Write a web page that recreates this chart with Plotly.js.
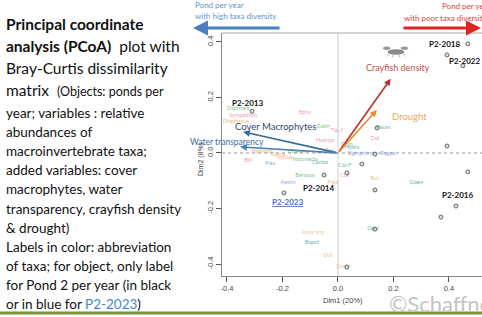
<!DOCTYPE html>
<html>
<head>
<meta charset="utf-8">
<script src="https://cdn.plot.ly/plotly-3.0.1.min.js"></script>
<style>html,body{margin:0;padding:0;background:#fff;overflow:hidden}#chart{width:482px;height:317px}</style>
</head>
<body>
<div id="chart"></div>
<script>
// ---------- DATA ----------
// Objects (ponds per year) coordinates on Dim1 / Dim2
const objLabel = ['P2-2018', '', 'P2-2022', '', '', '', '', '', 'P2-2016', '', 'P2-2023', 'P2-2014', '', '', '', '', 'P2-2013'];
const objDim1  = [0.468, 0.393, 0.450, 0.393, 0.141, 0.133, 0.468, 0.133, 0.425, 0.371, -0.195, -0.050, 0.032, 0.032, 0.086, 0.133, -0.310];
const objDim2  = [0.393, 0.353, 0.314, 0.025, 0.090, -0.004, -0.068, -0.133, -0.191, -0.231, -0.144, -0.079, -0.411, -0.072, -0.040, -0.274, 0.150];

// Taxa (variables) coordinates
const taxaNames = ['Diplonea', 'Sympetrum', 'Diaptomus', 'Ephy', 'Gasin', 'Hydrop', 'Tip. f', 'Pisum', 'Dol',
  'Dryo', 'Sigmphtrn', 'Rogpo', 'Hydroph', 'Ilybius', 'Notonecta', 'Bill', 'Corixa', 'Berosus', 'Aeshn',
  'Cor.F', 'Culi', 'Pisid', 'But', 'Glaen', 'Ogni', 'Anax imp', 'Bapsil', 'Dut', 'Orchi', 'Plea', 'Cloeon', 'Dyt', 'Gerris', 'Hydra'];
const taxaDim1 = [-0.360, -0.342, -0.368, -0.119, -0.054, -0.047, -0.004, 0.162, 0.133,
  0.032, 0.079, 0.180, -0.274, -0.191, -0.119, -0.324, -0.065, -0.119, -0.180,
  0.025, 0.025, -0.018, 0.133, 0.281, 0.126, -0.090, -0.094, -0.036, 0.018, -0.245, -0.150, -0.030, -0.215, 0.050];
const taxaDim2 = [0.159, 0.133, 0.112, 0.144, 0.094, 0.043, 0.079, 0.090, 0.050,
  0.029, -0.004, -0.004, 0.004, -0.018, -0.025, -0.029, -0.036, -0.083, -0.108,
  -0.047, -0.083, -0.108, -0.094, -0.105, -0.274, -0.288, -0.324, -0.368, -0.411, -0.040, 0.005, 0.010, -0.005, 0.020];
const taxaGroup = ['odo', 'dip', 'col', 'dip', 'odo', 'dip', 'dip', 'het', 'dip',
  'odo', 'cru', 'cru', 'col', 'col', 'odo', 'dip', 'het', 'odo', 'cru',
  'het', 'dip', 'mol', 'mol', 'het', 'het', 'mol', 'het', 'mol', 'mol', 'cru', 'odo', 'dip', 'col', 'het'];

// Added (supplementary) variables: arrow heads
const varNames = ['Crayfish density', 'Drought', 'Cover Macrophytes', 'Water transparency'];
const varDim1  = [0.190, 0.140, -0.342, -0.353];
const varDim2  = [0.267, 0.155, 0.076, 0.022];

// Axis ticks
const tickVals = [-0.4, -0.2, 0.0, 0.2, 0.4];
const tickText = ['-0.4', '-0.2', '0.0', '0.2', '0.4'];

// ---------- STYLE ----------
const W = 482, H = 317, L = 222, R = 0, T = 33, B = 41;
const pw = W - L - R, ph = H - T - B;
const px = v => (v - L) / pw;          // pixel -> paper x
const py = v => (H - B - v) / ph;      // pixel -> paper y
const groupColor = {odo: 'rgba(80,170,90,0.75)', dip: 'rgba(230,120,150,0.75)', col: 'rgba(235,150,70,0.75)',
  het: 'rgba(40,150,140,0.75)', mol: 'rgba(220,180,110,0.8)', cru: 'rgba(110,150,200,0.75)'};
const varColor = ['#c0302a', '#e8892c', '#3a6a98', '#4a80b8'];
const varTextColor = ['#c0504d', '#f2a65a', '#2e4a6b', '#3a6fa5'];
const FONT = 'Lato, "Open Sans", sans-serif';

const traces = [
  {
    type: 'scatter', mode: 'text', x: taxaDim1, y: taxaDim2, text: taxaNames,
    textfont: {family: FONT, size: 5.5, color: taxaGroup.map(g => groupColor[g])},
    hoverinfo: 'skip', showlegend: false, cliponaxis: false
  },
  {
    type: 'scatter', mode: 'markers', x: objDim1, y: objDim2,
    marker: {size: 4, color: 'rgba(200,200,200,0.6)', line: {color: '#666', width: 1}},
    hoverinfo: 'skip', showlegend: false
  }
];

const ann = [];
// arrows for added variables
varNames.forEach((n, i) => {
  ann.push({x: varDim1[i], y: varDim2[i], ax: 0, ay: 0, axref: 'x', ayref: 'y', xref: 'x', yref: 'y',
    showarrow: true, arrowhead: 2, arrowsize: 0.85, arrowwidth: 1.6, arrowcolor: varColor[i], text: ''});
});
// variable labels (offsets from arrow heads)
const varShift = [[7, 11], [13, -7], [-10, 5], [-13, 5]];
const varAnchor = ['center', 'left', 'left', 'center'];
const varSize = [9, 9.5, 9.5, 8.5];
varNames.forEach((n, i) => {
  ann.push({x: varDim1[i], y: varDim2[i], xref: 'x', yref: 'y', text: n, showarrow: false,
    xanchor: varAnchor[i], xshift: varShift[i][0], yshift: varShift[i][1],
    font: {family: FONT, size: varSize[i], color: varTextColor[i], shadow: i === 2 ? '0px 0px 2px #fff' : 'none'}});
});
// object labels
const objShift = {'P2-2018': [-23, 0], 'P2-2022': [2, 5], 'P2-2016': [2, 11], 'P2-2023': [4, -9], 'P2-2014': [-6, -13], 'P2-2013': [-4, 8]};
objLabel.forEach((n, i) => {
  if (!n) return;
  const blue = n === 'P2-2023';
  ann.push({x: objDim1[i], y: objDim2[i], xref: 'x', yref: 'y', text: '<b>' + n + '</b>', showarrow: false,
    xshift: objShift[n][0], yshift: objShift[n][1],
    font: {family: FONT, size: 8, color: blue ? '#3f72b5' : '#111', lineposition: blue ? 'under' : 'none'}});
});
// axis titles
ann.push({xref: 'paper', yref: 'paper', x: px(343), y: py(300), yanchor: 'middle', text: 'Dim1 (20%)', showarrow: false,
  font: {family: 'Liberation Sans, sans-serif', size: 7.5, color: '#444'}});
ann.push({xref: 'paper', yref: 'paper', x: px(195), y: py(160), text: 'Dim2 (8%)', textangle: -90, showarrow: false,
  font: {family: 'Liberation Sans, sans-serif', size: 7, color: '#444'}});

// top direction arrows + captions
ann.push({xref: 'paper', yref: 'paper', x: px(193), y: py(28), ax: 88, ay: 0, axref: 'pixel', ayref: 'pixel',
  showarrow: true, arrowhead: 2, arrowsize: 1, arrowwidth: 3, arrowcolor: '#4a7fc0', text: ''});
ann.push({xref: 'paper', yref: 'paper', x: px(494), y: py(28), ax: -92, ay: 0, axref: 'pixel', ayref: 'pixel',
  showarrow: true, arrowhead: 2, arrowsize: 1, arrowwidth: 3, arrowcolor: '#e02424', text: ''});
const cap = (x, y, t, c) => ann.push({xref: 'paper', yref: 'paper', x: px(x), y: py(y), xanchor: 'left', yanchor: 'middle',
  text: t, showarrow: false, font: {family: FONT, size: 8, color: c}});
cap(193, 5, 'Pond per year', '#5b95d5');
cap(193, 16.5, 'with high taxa diversity', '#5b95d5');
cap(440, 6, 'Pond per year', '#e04040');
cap(402, 17.5, 'with poor taxa diversity', '#e04040');

// left explanatory text
const txt = (y, t, s) => ann.push({xref: 'paper', yref: 'paper', x: px(4), y: py(y), xanchor: 'left', yanchor: 'middle',
  text: t, showarrow: false, font: {family: FONT, size: s, color: '#111'}});
txt(24, '<b>Principal coordinate</b>', 15.5);
txt(46, '<b>analysis (PCoA)</b>  plot with', 15.5);
txt(68, 'Bray-Curtis dissimilarity', 15.5);
txt(90, 'matrix  <span style="font-size:12.5px">(Objects: ponds per</span>', 15.5);
const body = ['year; variables : relative', 'abundances of', 'macroinvertebrate taxa;', 'added variables: cover',
  'macrophytes, water', 'transparency, crayfish density', '&amp; drought)', 'Labels in color: abbreviation',
  'of taxa; for object, only label', 'for Pond 2 per year (in black',
  'or in blue for <span style="color:#4a86c8">P2-2023</span>)'];
body.forEach((t, i) => txt(113 + i * 19.1, t, 13.5));

// watermark
ann.push({xref: 'paper', yref: 'paper', x: px(387), y: py(303), xanchor: 'left', yanchor: 'middle', text: '©Schaffner',
  showarrow: false, font: {family: FONT, size: 22, color: '#c4c4c4'}});

const crayfish = "<svg xmlns='http://www.w3.org/2000/svg' width='30' height='14' viewBox='0 0 30 14'>" +
  "<ellipse cx='15' cy='8' rx='9' ry='3' fill='#8a8a8a'/><ellipse cx='5' cy='4' rx='4' ry='1.8' fill='#9a9a9a'/>" +
  "<ellipse cx='24' cy='4' rx='4' ry='1.8' fill='#9a9a9a'/><path d='M8 10 L5 13 M12 11 L11 14 M18 11 L19 14 M22 10 L25 13' stroke='#999' stroke-width='0.8'/></svg>";

const layout = {
  width: W, height: H, margin: {l: L, r: R, t: T, b: B, pad: 0},
  paper_bgcolor: '#fff', plot_bgcolor: '#fff', showlegend: false,
  font: {family: 'Liberation Sans, sans-serif'},
  xaxis: {range: [-0.418, 0.519], tickvals: tickVals, ticktext: tickText, ticks: 'outside', ticklen: 5,
    tickcolor: '#555', showline: true, linecolor: '#888', linewidth: 1, showgrid: false, zeroline: false,
    tickfont: {size: 7.5, color: '#444'}, fixedrange: true},
  yaxis: {range: [-0.443, 0.432], tickvals: tickVals, ticktext: tickText, ticks: 'outside', ticklen: 5,
    tickcolor: '#555', showline: true, linecolor: '#888', linewidth: 1, showgrid: false, zeroline: false,
    tickangle: -90, tickfont: {size: 7.5, color: '#444'}, fixedrange: true},
  shapes: [
    {type: 'line', xref: 'paper', yref: 'paper', x0: 0, x1: 1, y0: 1, y1: 1, line: {color: '#aaa', width: 1}},
    {type: 'line', xref: 'x', yref: 'paper', x0: 0, x1: 0, y0: 0, y1: 1, line: {color: '#ccc', width: 1}, layer: 'below'},
    {type: 'line', xref: 'paper', yref: 'y', x0: 0, x1: 1, y0: 0, y1: 0, line: {color: '#999', width: 1, dash: 'dot'}, layer: 'below'},
    {type: 'line', xref: 'paper', yref: 'paper', x0: px(0), x1: px(482), y0: py(313), y1: py(313), line: {color: '#76923c', width: 3}}
  ],
  images: [{source: 'data:image/svg+xml;charset=utf-8,' + encodeURIComponent(crayfish), xref: 'paper', yref: 'paper',
    x: px(382), y: py(44), sizex: 28 / pw, sizey: 14 / ph, xanchor: 'left', yanchor: 'top', layer: 'above'}],
  annotations: ann
};

Plotly.newPlot('chart', traces, layout, {staticPlot: true, displayModeBar: false});
</script>
</body>
</html>
